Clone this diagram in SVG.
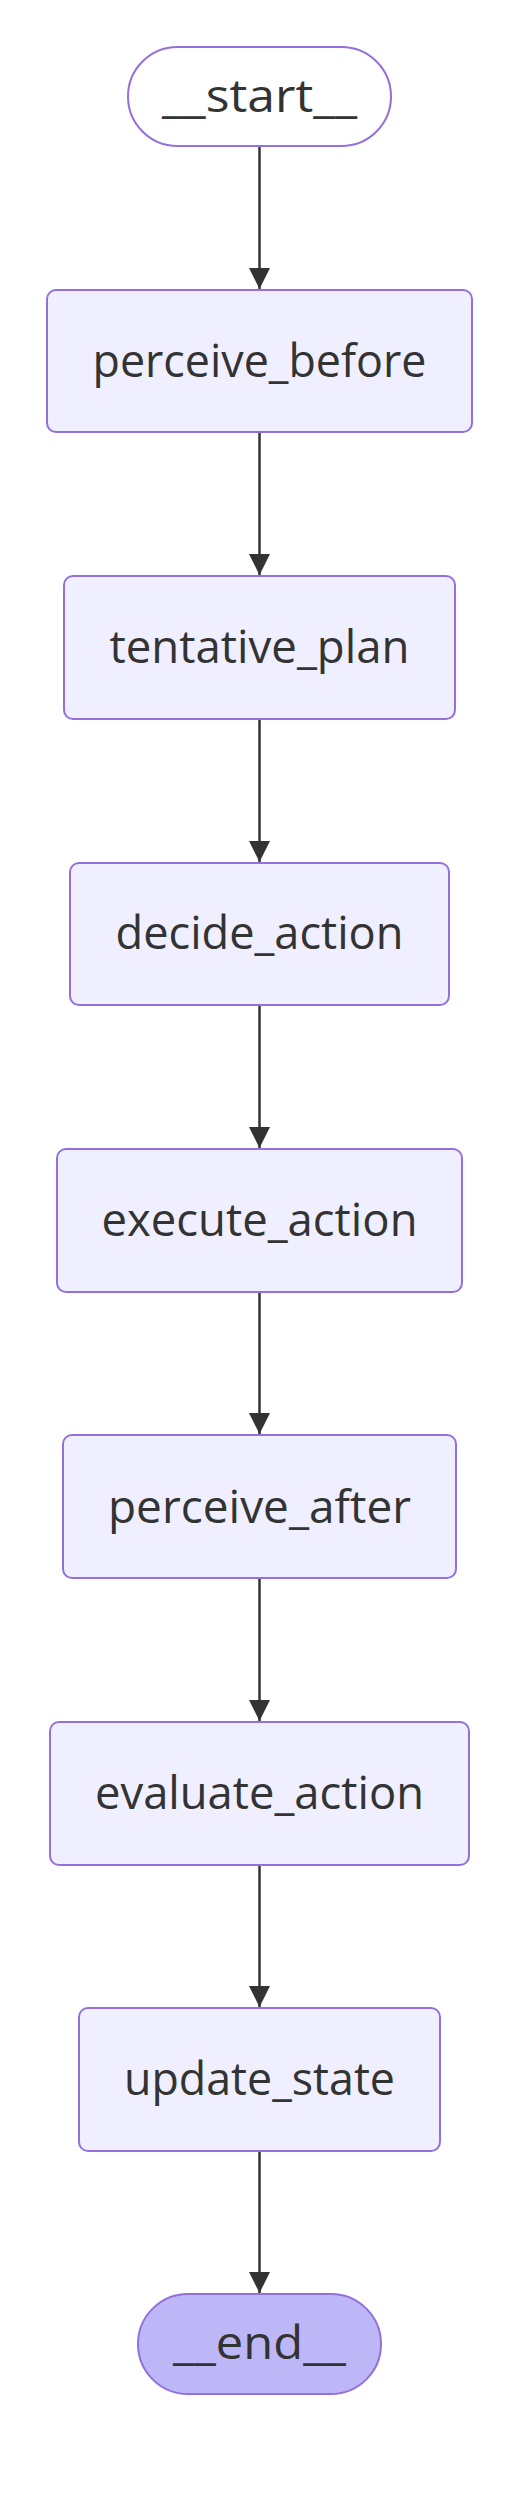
<svg xmlns="http://www.w3.org/2000/svg" width="519" height="2514" viewBox="0 0 519 2514">
<defs>
<style>
.node rect{fill:#f0efff;stroke:#9370db;stroke-width:2}
.node.start rect{fill:#ffffff}
.node.end rect{fill:#bdb6f7}
.node text{font-family:"Open Sans","DejaVu Sans",sans-serif;font-size:45px;fill:#333;text-anchor:middle}
.edges line{stroke:#333;stroke-width:2.5}
</style>
<marker id="arrow" viewBox="0 0 10 10" refX="10" refY="5" markerUnits="userSpaceOnUse" markerWidth="23" markerHeight="21" orient="auto">
<path d="M0,0 L10,5 L0,10 z" fill="#333"/>
</marker>
</defs>
<rect width="519" height="2514" fill="#ffffff"/>
<g class="edges">
<line x1="259.5" y1="146" x2="259.5" y2="289" marker-end="url(#arrow)"/>
<line x1="259.5" y1="432" x2="259.5" y2="575" marker-end="url(#arrow)"/>
<line x1="259.5" y1="719" x2="259.5" y2="862" marker-end="url(#arrow)"/>
<line x1="259.5" y1="1005" x2="259.5" y2="1148" marker-end="url(#arrow)"/>
<line x1="259.5" y1="1292" x2="259.5" y2="1434" marker-end="url(#arrow)"/>
<line x1="259.5" y1="1578" x2="259.5" y2="1721" marker-end="url(#arrow)"/>
<line x1="259.5" y1="1865" x2="259.5" y2="2007" marker-end="url(#arrow)"/>
<line x1="259.5" y1="2151" x2="259.5" y2="2293" marker-end="url(#arrow)"/>
</g>
<g id="start" class="node start">
<rect x="128" y="47" width="263" height="99" rx="49.5" ry="49.5"/>
<text x="259.5" y="112" textLength="195" lengthAdjust="spacingAndGlyphs">__start__</text>
</g>
<g id="perceive_before" class="node">
<rect x="47" y="290" width="425" height="142" rx="9" ry="9"/>
<text x="259.5" y="377" textLength="334" lengthAdjust="spacingAndGlyphs">perceive_before</text>
</g>
<g id="tentative_plan" class="node">
<rect x="64" y="576" width="391" height="143" rx="9" ry="9"/>
<text x="259.5" y="663" textLength="300" lengthAdjust="spacingAndGlyphs">tentative_plan</text>
</g>
<g id="decide_action" class="node">
<rect x="70" y="863" width="379" height="142" rx="9" ry="9"/>
<text x="259.5" y="949" textLength="288" lengthAdjust="spacingAndGlyphs">decide_action</text>
</g>
<g id="execute_action" class="node">
<rect x="57" y="1149" width="405" height="143" rx="9" ry="9"/>
<text x="259.5" y="1236" textLength="316" lengthAdjust="spacingAndGlyphs">execute_action</text>
</g>
<g id="perceive_after" class="node">
<rect x="63" y="1435" width="393" height="143" rx="9" ry="9"/>
<text x="259.5" y="1523" textLength="303" lengthAdjust="spacingAndGlyphs">perceive_after</text>
</g>
<g id="evaluate_action" class="node">
<rect x="50" y="1722" width="419" height="143" rx="9" ry="9"/>
<text x="259.5" y="1809" textLength="329" lengthAdjust="spacingAndGlyphs">evaluate_action</text>
</g>
<g id="update_state" class="node">
<rect x="79" y="2008" width="361" height="143" rx="9" ry="9"/>
<text x="259.5" y="2095" textLength="271" lengthAdjust="spacingAndGlyphs">update_state</text>
</g>
<g id="end" class="node end">
<rect x="138" y="2294" width="243" height="100" rx="50" ry="50"/>
<text x="259.5" y="2359" textLength="173" lengthAdjust="spacingAndGlyphs">__end__</text>
</g>
</svg>
